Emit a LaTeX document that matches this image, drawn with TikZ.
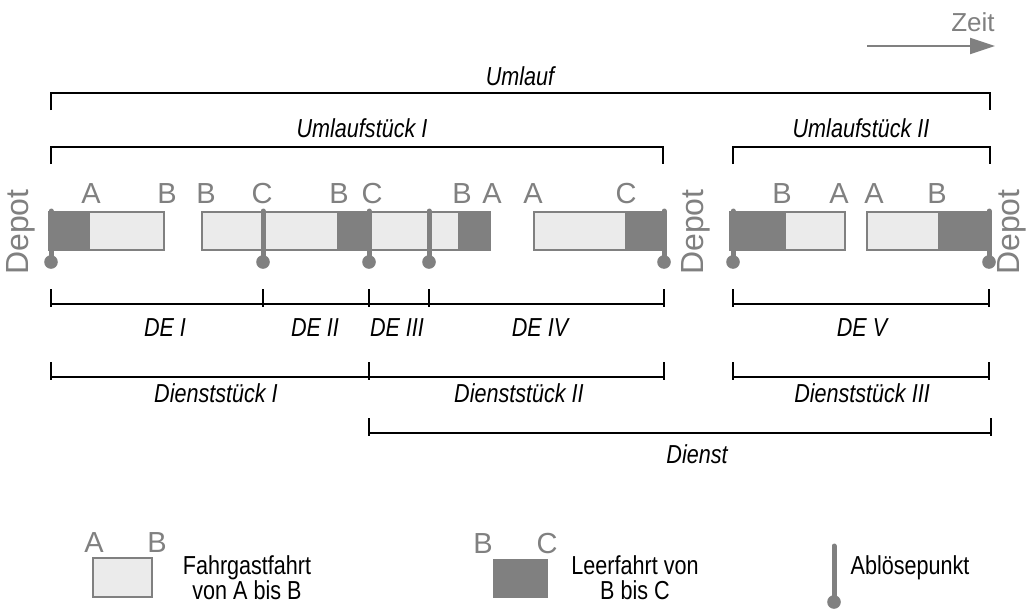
\documentclass[tikz,border=0pt]{standalone}
\usepackage{fontspec}
\setmainfont{Liberation Sans}
\newfontfamily\schmal[FakeStretch=0.83]{Liberation Sans}
\usetikzlibrary{arrows.meta}
\definecolor{dunkel}{HTML}{808080}
\definecolor{hell}{HTML}{EBEBEB}
\begin{document}
\begin{tikzpicture}[x=1pt, y=-1pt,
    fahrt/.style={draw=dunkel, fill=hell, line width=1.8pt},
    leer/.style={draw=dunkel, fill=dunkel, line width=1.8pt},
    halt/.style={text=dunkel, anchor=base, inner sep=0pt, font=\fontsize{29}{29}\selectfont},
    depot/.style={text=dunkel, rotate=90, inner sep=0pt, font=\fontsize{32}{32}\selectfont},
    lbl/.style={anchor=base, inner sep=0pt, font=\schmal\itshape\fontsize{26}{26}\selectfont},
    leg/.style={align=center, inner sep=0pt, font=\schmal\fontsize{26}{25}\selectfont},
    klammer/.style={draw=black, line width=2pt},
    abl/.style={draw=dunkel, line width=5pt, line cap=round}
]
\useasboundingbox (0,0) rectangle (1028,608);

% Zeitachse
\coordinate (z0) at (867,46);
\coordinate (z1) at (995,46);
\draw[dunkel, line width=2pt, -{Triangle[length=25pt,width=16pt]}] (z0) -- (z1);
\node[halt, font=\fontsize{26}{26}\selectfont] (zeit) at (973,31) {Zeit};

% Umlauf und Umlaufstuecke
\draw[klammer] (51,110) |- (990,93) -- (990,110);
\node[lbl] (ul) at (520,85) {Umlauf};
\draw[klammer] (51,164) |- (663,147) -- (663,164);
\node[lbl] (us1) at (362,137) {Umlaufstück I};
\draw[klammer] (733,164) |- (990,147) -- (990,164);
\node[lbl] (us2) at (861,137) {Umlaufstück II};

% Fahrten
\draw[fahrt] (89,212) rectangle (164,250);
\draw[leer] (49,212) rectangle (89,250);
\draw[fahrt] (202,212) rectangle (490,250);
\draw[leer] (338,212) rectangle (369,250);
\draw[leer] (459,212) rectangle (490,250);
\draw[fahrt] (534,212) rectangle (626,250);
\draw[leer] (626,212) rectangle (664,250);
\draw[fahrt] (785,212) rectangle (845,250);
\draw[leer] (730,212) rectangle (785,250);
\draw[fahrt] (867,212) rectangle (939,250);
\draw[leer] (939,212) rectangle (989,250);

% Haltestellen
\foreach \x/\h [count=\i] in {91/A, 167/B, 206/B, 262/C, 339/B, 372/C, 462/B,
    492/A, 533/A, 626/C, 782/B, 839/A, 874/A, 937/B} {
  \node[halt] (h\i) at (\x,203) {\h};
}
\node[depot] (dp1) at (21,232) {Depot};
\node[depot] (dp2) at (696,232) {Depot};
\node[depot] (dp3) at (1012,232) {Depot};

% Abloesepunkte
\foreach \x [count=\i] in {51,263,369,429,664,733,989} {
  \coordinate (a\i) at (\x,211);
  \coordinate (b\i) at (\x,262);
  \draw[abl] (a\i) -- (b\i);
  \fill[dunkel] (b\i) circle (6.8);
}

% Dienstelemente
\foreach \a/\b/\m/\t [count=\i] in {51/263/165/DE I, 263/369/315/DE II,
    369/429/397/DE III, 429/664/540/DE IV, 733/989/862/DE V} {
  \draw[klammer] (\a,289) -- (\a,307) (\a,304) -- (\b,304) (\b,289) -- (\b,307);
  \node[lbl] (de\i) at (\m,336) {\t};
}

% Dienststuecke und Dienst
\foreach \a/\b/\m/\t [count=\i] in {51/369/216/Dienststück I,
    369/664/519/Dienststück II, 733/989/862/Dienststück III} {
  \draw[klammer] (\a,362) -- (\a,380) (\a,377) -- (\b,377) (\b,362) -- (\b,380);
  \node[lbl] (ds\i) at (\m,402) {\t};
}
\draw[klammer] (369,418) -- (369,436) (369,433) -- (991,433) (991,418) -- (991,436);
\node[lbl] (dienst) at (697,463) {Dienst};

% Legende
\draw[fahrt] (93,558) rectangle (152,597);
\node[halt] (la) at (94,552) {A};
\node[halt] (lb) at (157,552) {B};
\node[leg] (lf) at (247,578) {Fahrgastfahrt\\von A bis B};
\fill[dunkel] (493,559) rectangle (548,598);
\node[halt] (lc) at (483,553) {B};
\node[halt] (ld) at (547,553) {C};
\node[leg] (ll) at (635,578) {Leerfahrt von\\B bis C};
\coordinate (la0) at (834,546);
\coordinate (la1) at (834,602);
\draw[abl] (la0) -- (la1);
\fill[dunkel] (la1) circle (6.8);
\node[leg] (lp) at (910,568) {Ablösepunkt};
\end{tikzpicture}
\end{document}
